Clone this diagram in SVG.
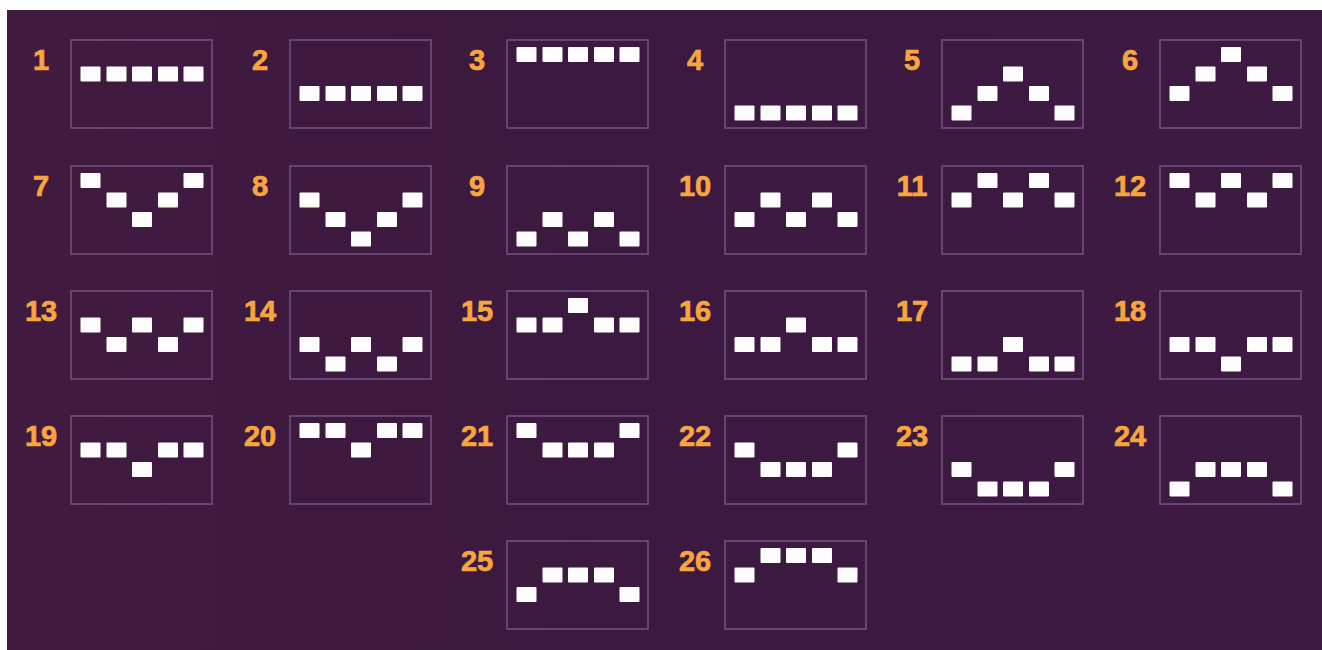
<svg xmlns="http://www.w3.org/2000/svg" xmlns:xlink="http://www.w3.org/1999/xlink" width="1322" height="650" viewBox="0 0 1322 650">
<defs>
<style>
.box{fill:none;stroke:#6b4a78;stroke-width:1.8}
.sq{fill:#fefdfe}
.lbl{font-family:"Liberation Sans",Arial,sans-serif;font-weight:bold;font-size:29px;fill:#f7a53e;stroke:#f7a53e;stroke-width:0.7;text-anchor:middle}
</style>
<linearGradient id="bg" x1="0" y1="0" x2="1" y2="0">
<stop offset="0" stop-color="#411a3f"/>
<stop offset="0.5" stop-color="#3b1940"/>
<stop offset="1" stop-color="#3d1a41"/>
</linearGradient>
<rect id="s" class="sq" width="20" height="15" rx="1"/>
</defs>
<rect x="0" y="0" width="1322" height="650" fill="#ffffff"/>
<rect x="7" y="10" width="1315" height="640" fill="url(#bg)"/>

<g id="line1" transform="translate(71,40)"><text class="lbl" x="-30" y="30">1</text><rect class="box" width="141" height="88"/>
<use href="#s" x="9.5" y="26.5"/><use href="#s" x="35.5" y="26.5"/><use href="#s" x="61" y="26.5"/><use href="#s" x="87" y="26.5"/><use href="#s" x="112.5" y="26.5"/></g>
<g id="line2" transform="translate(290,40)"><text class="lbl" x="-30" y="30">2</text><rect class="box" width="141" height="88"/>
<use href="#s" x="9.5" y="46"/><use href="#s" x="35.5" y="46"/><use href="#s" x="61" y="46"/><use href="#s" x="87" y="46"/><use href="#s" x="112.5" y="46"/></g>
<g id="line3" transform="translate(507,40)"><text class="lbl" x="-30" y="30">3</text><rect class="box" width="141" height="88"/>
<use href="#s" x="9.5" y="7"/><use href="#s" x="35.5" y="7"/><use href="#s" x="61" y="7"/><use href="#s" x="87" y="7"/><use href="#s" x="112.5" y="7"/></g>
<g id="line4" transform="translate(725,40)"><text class="lbl" x="-30" y="30">4</text><rect class="box" width="141" height="88"/>
<use href="#s" x="9.5" y="65.5"/><use href="#s" x="35.5" y="65.5"/><use href="#s" x="61" y="65.5"/><use href="#s" x="87" y="65.5"/><use href="#s" x="112.5" y="65.5"/></g>
<g id="line5" transform="translate(942,40)"><text class="lbl" x="-30" y="30">5</text><rect class="box" width="141" height="88"/>
<use href="#s" x="9.5" y="65.5"/><use href="#s" x="35.5" y="46"/><use href="#s" x="61" y="26.5"/><use href="#s" x="87" y="46"/><use href="#s" x="112.5" y="65.5"/></g>
<g id="line6" transform="translate(1160,40)"><text class="lbl" x="-30" y="30">6</text><rect class="box" width="141" height="88"/>
<use href="#s" x="9.5" y="46"/><use href="#s" x="35.5" y="26.5"/><use href="#s" x="61" y="7"/><use href="#s" x="87" y="26.5"/><use href="#s" x="112.5" y="46"/></g>

<g id="line7" transform="translate(71,166)"><text class="lbl" x="-30" y="30">7</text><rect class="box" width="141" height="88"/>
<use href="#s" x="9.5" y="7"/><use href="#s" x="35.5" y="26.5"/><use href="#s" x="61" y="46"/><use href="#s" x="87" y="26.5"/><use href="#s" x="112.5" y="7"/></g>
<g id="line8" transform="translate(290,166)"><text class="lbl" x="-30" y="30">8</text><rect class="box" width="141" height="88"/>
<use href="#s" x="9.5" y="26.5"/><use href="#s" x="35.5" y="46"/><use href="#s" x="61" y="65.5"/><use href="#s" x="87" y="46"/><use href="#s" x="112.5" y="26.5"/></g>
<g id="line9" transform="translate(507,166)"><text class="lbl" x="-30" y="30">9</text><rect class="box" width="141" height="88"/>
<use href="#s" x="9.5" y="65.5"/><use href="#s" x="35.5" y="46"/><use href="#s" x="61" y="65.5"/><use href="#s" x="87" y="46"/><use href="#s" x="112.5" y="65.5"/></g>
<g id="line10" transform="translate(725,166)"><text class="lbl" x="-30" y="30">10</text><rect class="box" width="141" height="88"/>
<use href="#s" x="9.5" y="46"/><use href="#s" x="35.5" y="26.5"/><use href="#s" x="61" y="46"/><use href="#s" x="87" y="26.5"/><use href="#s" x="112.5" y="46"/></g>
<g id="line11" transform="translate(942,166)"><text class="lbl" x="-30" y="30">11</text><rect class="box" width="141" height="88"/>
<use href="#s" x="9.5" y="26.5"/><use href="#s" x="35.5" y="7"/><use href="#s" x="61" y="26.5"/><use href="#s" x="87" y="7"/><use href="#s" x="112.5" y="26.5"/></g>
<g id="line12" transform="translate(1160,166)"><text class="lbl" x="-30" y="30">12</text><rect class="box" width="141" height="88"/>
<use href="#s" x="9.5" y="7"/><use href="#s" x="35.5" y="26.5"/><use href="#s" x="61" y="7"/><use href="#s" x="87" y="26.5"/><use href="#s" x="112.5" y="7"/></g>

<g id="line13" transform="translate(71,291)"><text class="lbl" x="-30" y="30">13</text><rect class="box" width="141" height="88"/>
<use href="#s" x="9.5" y="26.5"/><use href="#s" x="35.5" y="46"/><use href="#s" x="61" y="26.5"/><use href="#s" x="87" y="46"/><use href="#s" x="112.5" y="26.5"/></g>
<g id="line14" transform="translate(290,291)"><text class="lbl" x="-30" y="30">14</text><rect class="box" width="141" height="88"/>
<use href="#s" x="9.5" y="46"/><use href="#s" x="35.5" y="65.5"/><use href="#s" x="61" y="46"/><use href="#s" x="87" y="65.5"/><use href="#s" x="112.5" y="46"/></g>
<g id="line15" transform="translate(507,291)"><text class="lbl" x="-30" y="30">15</text><rect class="box" width="141" height="88"/>
<use href="#s" x="9.5" y="26.5"/><use href="#s" x="35.5" y="26.5"/><use href="#s" x="61" y="7"/><use href="#s" x="87" y="26.5"/><use href="#s" x="112.5" y="26.5"/></g>
<g id="line16" transform="translate(725,291)"><text class="lbl" x="-30" y="30">16</text><rect class="box" width="141" height="88"/>
<use href="#s" x="9.5" y="46"/><use href="#s" x="35.5" y="46"/><use href="#s" x="61" y="26.5"/><use href="#s" x="87" y="46"/><use href="#s" x="112.5" y="46"/></g>
<g id="line17" transform="translate(942,291)"><text class="lbl" x="-30" y="30">17</text><rect class="box" width="141" height="88"/>
<use href="#s" x="9.5" y="65.5"/><use href="#s" x="35.5" y="65.5"/><use href="#s" x="61" y="46"/><use href="#s" x="87" y="65.5"/><use href="#s" x="112.5" y="65.5"/></g>
<g id="line18" transform="translate(1160,291)"><text class="lbl" x="-30" y="30">18</text><rect class="box" width="141" height="88"/>
<use href="#s" x="9.5" y="46"/><use href="#s" x="35.5" y="46"/><use href="#s" x="61" y="65.5"/><use href="#s" x="87" y="46"/><use href="#s" x="112.5" y="46"/></g>

<g id="line19" transform="translate(71,416)"><text class="lbl" x="-30" y="30">19</text><rect class="box" width="141" height="88"/>
<use href="#s" x="9.5" y="26.5"/><use href="#s" x="35.5" y="26.5"/><use href="#s" x="61" y="46"/><use href="#s" x="87" y="26.5"/><use href="#s" x="112.5" y="26.5"/></g>
<g id="line20" transform="translate(290,416)"><text class="lbl" x="-30" y="30">20</text><rect class="box" width="141" height="88"/>
<use href="#s" x="9.5" y="7"/><use href="#s" x="35.5" y="7"/><use href="#s" x="61" y="26.5"/><use href="#s" x="87" y="7"/><use href="#s" x="112.5" y="7"/></g>
<g id="line21" transform="translate(507,416)"><text class="lbl" x="-30" y="30">21</text><rect class="box" width="141" height="88"/>
<use href="#s" x="9.5" y="7"/><use href="#s" x="35.5" y="26.5"/><use href="#s" x="61" y="26.5"/><use href="#s" x="87" y="26.5"/><use href="#s" x="112.5" y="7"/></g>
<g id="line22" transform="translate(725,416)"><text class="lbl" x="-30" y="30">22</text><rect class="box" width="141" height="88"/>
<use href="#s" x="9.5" y="26.5"/><use href="#s" x="35.5" y="46"/><use href="#s" x="61" y="46"/><use href="#s" x="87" y="46"/><use href="#s" x="112.5" y="26.5"/></g>
<g id="line23" transform="translate(942,416)"><text class="lbl" x="-30" y="30">23</text><rect class="box" width="141" height="88"/>
<use href="#s" x="9.5" y="46"/><use href="#s" x="35.5" y="65.5"/><use href="#s" x="61" y="65.5"/><use href="#s" x="87" y="65.5"/><use href="#s" x="112.5" y="46"/></g>
<g id="line24" transform="translate(1160,416)"><text class="lbl" x="-30" y="30">24</text><rect class="box" width="141" height="88"/>
<use href="#s" x="9.5" y="65.5"/><use href="#s" x="35.5" y="46"/><use href="#s" x="61" y="46"/><use href="#s" x="87" y="46"/><use href="#s" x="112.5" y="65.5"/></g>

<g id="line25" transform="translate(507,541)"><text class="lbl" x="-30" y="30">25</text><rect class="box" width="141" height="88"/>
<use href="#s" x="9.5" y="46"/><use href="#s" x="35.5" y="26.5"/><use href="#s" x="61" y="26.5"/><use href="#s" x="87" y="26.5"/><use href="#s" x="112.5" y="46"/></g>
<g id="line26" transform="translate(725,541)"><text class="lbl" x="-30" y="30">26</text><rect class="box" width="141" height="88"/>
<use href="#s" x="9.5" y="26.5"/><use href="#s" x="35.5" y="7"/><use href="#s" x="61" y="7"/><use href="#s" x="87" y="7"/><use href="#s" x="112.5" y="26.5"/></g>
</svg>
